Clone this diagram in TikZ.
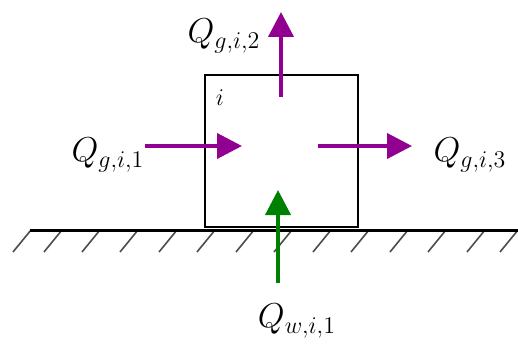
\documentclass[tikz,border=0pt]{standalone}
\usepackage{amsmath}
\usepackage{amssymb}
\usetikzlibrary{arrows.meta}
\definecolor{flowpurple}{RGB}{145,0,145}
\definecolor{flowgreen}{RGB}{0,128,0}

\begin{document}
\begin{tikzpicture}[x=0.5pt, y=-0.5pt, >={Triangle[length=12.5pt,width=12.5pt]},
    flux/.style={->, line width=2pt},
    lbl/.style={font=\fontsize{18.5}{22}\selectfont}]
    \useasboundingbox (0,0) rectangle (518,347);
    % ground and hatching
    \foreach \x in {31,62,100,138,177,215,254,292,331,369,408,446,485,518}
        \draw[black!70, line width=0.8pt] (\x,230) -- ++(-18,22);
    \draw[line width=1.5pt] (30,230) -- (518,230);
    % control volume i
    \node (cell) [draw, line width=1pt, inner sep=0pt, minimum width=76.5pt,
        minimum height=76pt, anchor=south west] at (204,228) {};
    \node[font=\fontsize{12}{14}\selectfont] (idx) at (220,98) {$i$};
    % flux ends
    \coordinate (inL) at (145,146);
    \coordinate (inR) at (242,146);
    \coordinate (outL) at (318,146);
    \coordinate (outR) at (412,146);
    \coordinate (upB) at (281,97);
    \coordinate (upT) at (281,12);
    \coordinate (wB) at (278,283);
    \coordinate (wT) at (278,190);
    \draw[flux, flowpurple] (inL) -- (inR);
    \draw[flux, flowpurple] (outL) -- (outR);
    \draw[flux, flowpurple] (upB) -- (upT);
    \draw[flux, flowgreen] (wB) -- (wT);
    % labels
    \node[lbl] (q1) at (108,155) {$Q_{g,i,1}$};
    \node[lbl] (q2) at (224,36) {$Q_{g,i,2}$};
    \node[lbl] (q3) at (470,155) {$Q_{g,i,3}$};
    \node[lbl] (qw) at (297,321) {$Q_{w,i,1}$};
\end{tikzpicture}
\end{document}
